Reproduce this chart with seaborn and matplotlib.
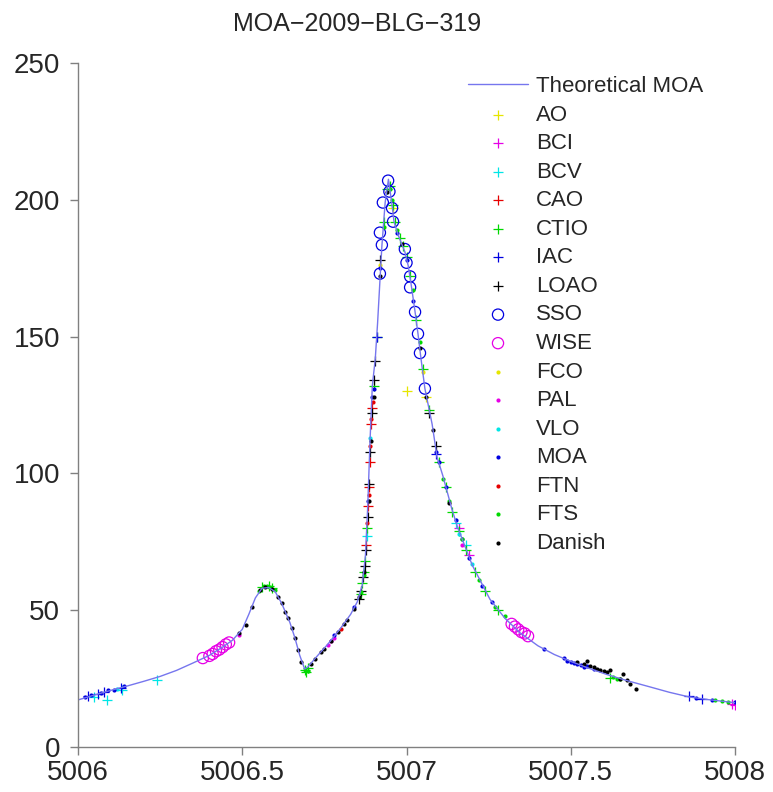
import matplotlib
matplotlib.use("Agg")
import matplotlib.pyplot as plt
import seaborn as sns

TITLE = "MOA\u22122009\u2212BLG\u2212319"

# theoretical light curve
model_x = [5006.00, 5006.05, 5006.10, 5006.15, 5006.20, 5006.25, 5006.30, 5006.35, 5006.40,
           5006.44, 5006.47, 5006.50, 5006.52, 5006.54, 5006.56, 5006.58, 5006.60, 5006.62,
           5006.645, 5006.66, 5006.675, 5006.69, 5006.70, 5006.73, 5006.76, 5006.80, 5006.83,
           5006.85, 5006.865, 5006.875, 5006.882, 5006.889, 5006.896, 5006.905, 5006.912,
           5006.918, 5006.925, 5006.935, 5006.945, 5006.955, 5006.962, 5006.975, 5006.995,
           5007.005, 5007.013, 5007.025, 5007.035, 5007.043, 5007.056, 5007.078, 5007.093,
           5007.111, 5007.138, 5007.155, 5007.20, 5007.254, 5007.30, 5007.345, 5007.40,
           5007.45, 5007.50, 5007.55, 5007.61, 5007.67, 5007.74, 5007.80, 5007.86, 5007.92,
           5008.00]
model_y = [17.2, 19.0, 20.7, 22.3, 24.0, 25.8, 28.0, 30.7, 33.5,
           36.5, 39.0, 43.0, 48.5, 54.5, 58.0, 58.3, 56.8, 52.5,
           45.5, 40.0, 33.5, 28.5, 29.3, 33.5, 37.5, 43.5, 48.5,
           53.0, 59.0, 70.0, 88.0, 112.0, 132.0, 142.0, 155.0,
           168.0, 183.0, 199.0, 207.5, 199.0, 192.0, 187.0, 181.0,
           176.0, 170.0, 160.0, 151.0, 143.0, 131.0, 118.0, 106.0,
           99.0, 87.0, 80.5, 66.5, 54.0, 47.0, 41.8, 37.0,
           33.8, 31.3, 29.0, 26.5, 24.3, 22.0, 20.0, 18.3, 17.3,
           16.2]

# observations per site
ao_x = [5006.96, 5007.00, 5007.06]
ao_y = [197, 130, 128]
bci_x = [5007.16, 5007.19, 5007.99, 5008.00]
bci_y = [80, 70, 15.8, 15.2]
bcv_x = [5006.05, 5006.088, 5006.135, 5006.24, 5006.88, 5007.15, 5007.18]
bcv_y = [18.2, 17.2, 21.0, 24.5, 77, 82, 74]
cao_x = [5006.878, 5006.883, 5006.886, 5006.888, 5006.892, 5006.894]
cao_y = [74, 88, 95, 104, 118, 124]
ctio_x = [5006.56, 5006.58, 5006.59, 5006.69, 5006.695, 5006.70, 5006.86, 5006.865, 5006.87,
          5006.875, 5006.88, 5006.90, 5006.91, 5006.93, 5006.94, 5006.95, 5006.96, 5006.965,
          5006.98, 5006.99, 5007.00, 5007.01, 5007.03, 5007.05, 5007.07, 5007.10, 5007.12,
          5007.14, 5007.16, 5007.18, 5007.21, 5007.24, 5007.28, 5007.62]
ctio_y = [58.3, 58.8, 58.0, 28.0, 27.5, 28.8, 56, 60, 64,
          68, 80, 132, 150, 192, 204, 205, 198, 192,
          186, 183, 179, 172, 156, 138, 123, 104, 95,
          86, 79, 72, 64, 57, 50, 25.3]
iac_x = [5006.03, 5006.06, 5006.08, 5006.13, 5006.91, 5007.09, 5007.86, 5007.90]
iac_y = [18.5, 19.3, 20.0, 21.5, 150, 107, 18.5, 17.4]
loao_x = [5006.855, 5006.862, 5006.868, 5006.873, 5006.877, 5006.882, 5006.887, 5006.890,
          5006.895, 5006.900, 5006.905, 5006.920, 5007.07, 5007.09]
loao_y = [54, 57, 62, 66, 72, 84, 96, 108, 122, 134, 141, 178, 122, 110]
sso_x = [5006.919, 5006.925, 5006.919, 5006.928, 5006.944, 5006.948, 5006.956, 5006.959,
         5006.995, 5007.000, 5007.011, 5007.011, 5007.026, 5007.035, 5007.041, 5007.056]
sso_y = [173, 183.5, 188, 199, 207, 203, 197, 192, 182, 177, 172, 168, 159, 151, 144, 131]
wise_x = [5006.38, 5006.40, 5006.41, 5006.42, 5006.43, 5006.44, 5006.45, 5006.46,
          5007.32, 5007.33, 5007.34, 5007.35, 5007.36, 5007.37]
wise_y = [32.5, 33.3, 34.0, 35.0, 35.6, 36.5, 37.5, 38.2, 45.0, 44.0, 43.0, 42.0, 41.5, 40.5]
fco_x = [5006.92, 5007.05]
fco_y = [176, 137]
pal_x = [5006.49, 5006.76, 5006.77, 5006.78, 5007.17]
pal_y = [41, 37.2, 38.6, 40, 74]
vlo_x = [5006.12, 5006.89, 5007.16, 5007.20]
vlo_y = [21.3, 113, 78, 67]
moa_x = [5006.02, 5006.04, 5006.07, 5006.09, 5006.11, 5006.14, 5006.78, 5006.84, 5006.884,
         5006.895, 5006.90, 5006.92, 5006.97, 5007.00, 5007.02, 5007.09, 5007.10, 5007.12,
         5007.15, 5007.17, 5007.19, 5007.23, 5007.26, 5007.42, 5007.48, 5007.49, 5007.50,
         5007.51, 5007.52, 5007.53, 5007.54, 5007.55, 5007.57, 5007.88, 5007.93, 5008.00]
moa_y = [18.3, 18.9, 19.6, 20.8, 21.0, 22.2, 41, 51, 90,
         128, 131, 175, 188, 178, 163, 108, 104, 95,
         83, 76, 69, 59, 53, 36, 32.5, 31.6, 31.0,
         30.8, 30.5, 30.1, 29.4, 29.5, 28.6, 18.0, 17.0, 16.3]
ftn_x = [5006.80, 5006.881, 5006.885, 5006.889, 5006.893, 5006.897]
ftn_y = [43, 82, 92, 110, 120, 126]
fts_x = [5006.55, 5006.565, 5006.575, 5006.585, 5006.60, 5006.69, 5006.70, 5006.86, 5006.87,
         5006.93, 5006.95, 5006.955, 5006.97, 5007.02, 5007.04, 5007.11, 5007.13, 5007.17,
         5007.22, 5007.27, 5007.30, 5007.63, 5007.64, 5007.65, 5007.94, 5007.96, 5007.98]
fts_y = [57, 58.8, 59, 58.6, 57.5, 28.3, 27.8, 56.5, 63,
         190, 204, 200, 189, 167, 148, 98, 90, 76,
         61, 51, 48, 25.5, 24.8, 25.0, 17.0, 16.8, 16.6]
danish_x = [5006.49, 5006.51, 5006.53, 5006.555, 5006.57, 5006.59, 5006.61, 5006.62, 5006.63,
            5006.64, 5006.65, 5006.66, 5006.67, 5006.68, 5006.71, 5006.72, 5006.74, 5006.75,
            5006.77, 5006.79, 5006.81, 5006.82, 5006.84, 5006.855, 5006.87, 5006.885, 5006.892,
            5006.90, 5006.92, 5006.94, 5006.985, 5007.04, 5007.06, 5007.08, 5007.13,
            5007.52, 5007.54, 5007.55, 5007.56, 5007.57, 5007.58, 5007.59, 5007.60, 5007.61,
            5007.62, 5007.65, 5007.66, 5007.67, 5007.68, 5007.70]
danish_y = [41.5, 44.5, 51, 57.5, 58.3, 57.8, 55, 52.6, 49.5,
            47, 43.5, 40, 35.5, 31, 30.5, 32, 34.8, 36,
            38.8, 42, 45, 46.5, 50.5, 55, 64, 90, 112,
            128, 172, 203, 184, 146, 128, 116, 89,
            30.9, 30.2, 31.5, 29.6, 29.2, 28.5, 28.0, 27.6, 27.5,
            28.0, 25.0, 26.8, 24.5, 23.0, 21.3]

sites = [
    ("AO", ao_x, ao_y, "+", "#e6e600"),
    ("BCI", bci_x, bci_y, "+", "#e600e6"),
    ("BCV", bcv_x, bcv_y, "+", "#00e6e6"),
    ("CAO", cao_x, cao_y, "+", "#e60000"),
    ("CTIO", ctio_x, ctio_y, "+", "#00d900"),
    ("IAC", iac_x, iac_y, "+", "#0000e0"),
    ("LOAO", loao_x, loao_y, "+", "#000000"),
    ("SSO", sso_x, sso_y, "o", "#0000e0"),
    ("WISE", wise_x, wise_y, "o", "#e600e6"),
    ("FCO", fco_x, fco_y, ".", "#e6e600"),
    ("PAL", pal_x, pal_y, ".", "#e600e6"),
    ("VLO", vlo_x, vlo_y, ".", "#00e6e6"),
    ("MOA", moa_x, moa_y, ".", "#0000e0"),
    ("FTN", ftn_x, ftn_y, ".", "#e60000"),
    ("FTS", fts_x, fts_y, ".", "#00d900"),
    ("Danish", danish_x, danish_y, ".", "#000000"),
]

sns.set_style("ticks")
plt.rcParams["font.family"] = ["Liberation Sans", "DejaVu Sans"]

fig = plt.figure(figsize=(7.73, 7.92), dpi=100)
ax = fig.add_axes([78 / 773, 45 / 792, 657 / 773, 684 / 792])

sns.lineplot(x=model_x, y=model_y, sort=False, color="#7676ee", linewidth=1.0,
             label="Theoretical MOA", ax=ax)

for name, xs, ys, marker, color in sites:
    if marker == "+":
        sns.scatterplot(x=xs, y=ys, marker="+", s=45, color=color, linewidth=0.9,
                        label=name, ax=ax)
    elif marker == "o":
        sns.scatterplot(x=xs, y=ys, marker="o", s=65, facecolors="none", edgecolor=color,
                        linewidth=0.9, label=name, ax=ax)
    else:
        sns.scatterplot(x=xs, y=ys, marker="o", s=9, color=color, linewidth=0,
                        label=name, ax=ax)

ax.set_xlim(5006, 5008)
ax.set_ylim(0, 250)
ax.set_xticks([5006, 5006.5, 5007, 5007.5, 5008])
ax.set_xticklabels(["5006", "5006.5", "5007", "5007.5", "5008"])
ax.set_yticks([0, 50, 100, 150, 200, 250])
ax.tick_params(labelsize=20, length=6, width=1, color="#808080", direction="out")
ax.tick_params(axis="y", pad=7)
sns.despine(ax=ax)
for side in ["left", "bottom"]:
    ax.spines[side].set_color("#808080")
    ax.spines[side].set_linewidth(1)

ax.legend(loc="upper left", bbox_to_anchor=(468 / 773, 1 - 76 / 792),
          bbox_transform=fig.transFigure, frameon=False, fontsize=16,
          handlelength=2.7, handletextpad=0.35, labelspacing=0.34,
          borderpad=0, borderaxespad=0, scatterpoints=1)

fig.text(357 / 773, 1 - 24 / 792, TITLE, ha="center", va="center", fontsize=18)

fig.savefig("out.png", dpi=100)
